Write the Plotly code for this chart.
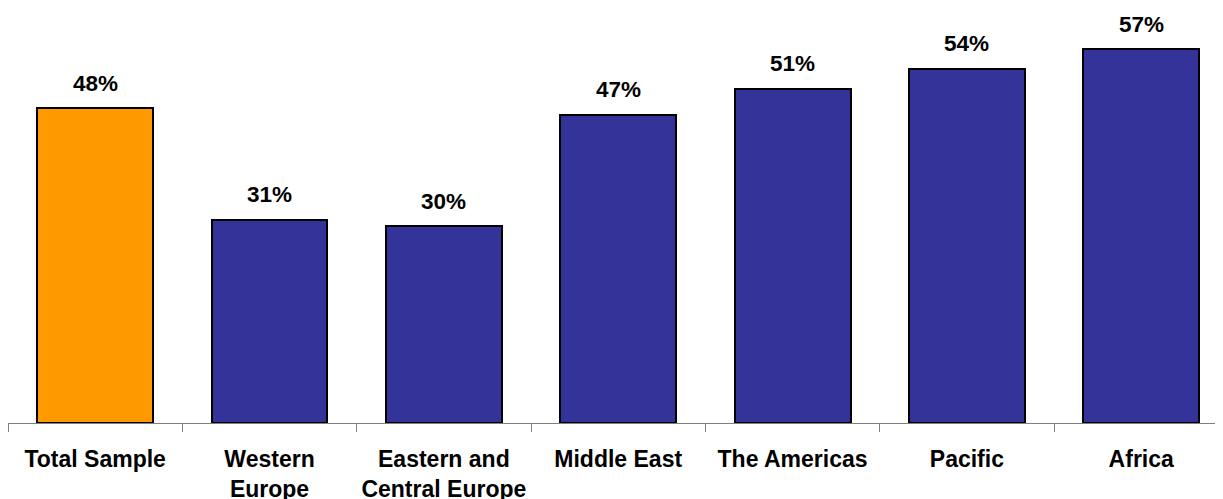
import plotly.graph_objects as go

categories = ["Total Sample", "Western<br>Europe", "Eastern and<br>Central Europe",
              "Middle East", "The Americas", "Pacific", "Africa"]
values = [48, 31, 30, 47, 51, 54, 57]
labels = ["48%", "31%", "30%", "47%", "51%", "54%", "57%"]
colors = ["#FF9900", "#333399", "#333399", "#333399", "#333399", "#333399", "#333399"]

FONT = "Liberation Sans, Arial, sans-serif"
bold_cats = ["<b>%s</b>" % c for c in categories]

fig = go.Figure()
fig.add_trace(go.Bar(
    x=bold_cats, y=values,
    marker=dict(color=colors, line=dict(color="black", width=2)),
    width=0.665, hoverinfo="skip",
))
for c, v, t in zip(bold_cats, values, labels):
    fig.add_annotation(x=c, y=v, text="<b>%s</b>" % t, showarrow=False,
                       yanchor="middle", yshift=25,
                       font=dict(family=FONT, size=22.5, color="black"))

fig.update_layout(
    width=1223, height=499,
    margin=dict(l=0, r=0, t=0, b=84),
    paper_bgcolor="white", plot_bgcolor="white",
    showlegend=False,
    bargap=0,
    xaxis=dict(
        type="category",
        range=[-0.5, 6.515],
        showline=True, linecolor="#808080", linewidth=1,
        ticks="outside", ticklen=8, tickcolor="#808080", tickwidth=1,
        tickson="boundaries",
        showgrid=False, zeroline=False,
        tickfont=dict(family=FONT, size=23, color="black"),
        ticklabelstandoff=15,
    ),
    yaxis=dict(range=[0, 63.3], visible=False, showgrid=False, zeroline=False),
)

fig.write_html("out.html")
